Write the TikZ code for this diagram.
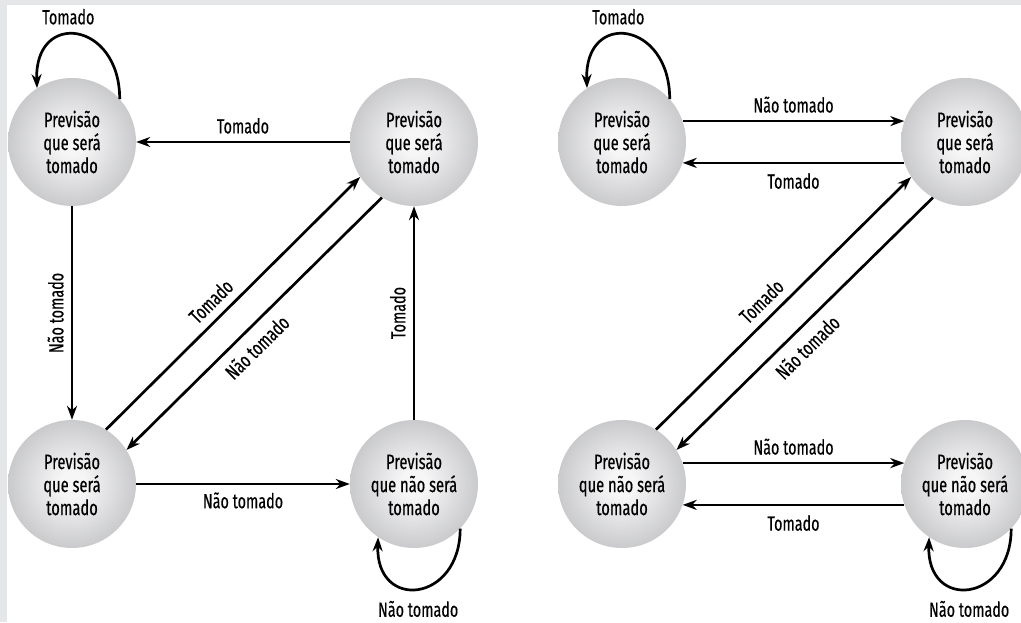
\documentclass[tikz,border=0pt]{standalone}
\usepackage{fontspec}
\setmainfont{Fira Sans}[FakeStretch=0.70,FakeBold=0.4]
\usetikzlibrary{arrows.meta,calc}
\definecolor{ballin}{RGB}{246,246,247}
\definecolor{ballout}{RGB}{146,147,151}
\definecolor{framegray}{RGB}{229,230,232}
\pgfdeclareradialshading{ball}{\pgfpoint{0bp}{0bp}}{color(0bp)=(ballin); color(5bp)=(ballin); color(50bp)=(ballout); color(60bp)=(ballout)}
\begin{document}
\begin{tikzpicture}[x=1pt,y=1pt,
  state/.style={circle, minimum size=128pt, inner sep=0pt, shade, shading=ball,
    align=center, font=\fontsize{21}{23}\selectfont},
  lbl/.style={inner sep=0pt, font=\fontsize{20.5}{22}\selectfont},
  arr/.style={line width=2.7pt, -{Stealth[length=14pt,width=10pt,inset=4.5pt]}},
  rarr/.style={line width=2.7pt, {Stealth[length=14pt,width=10pt,inset=4.5pt]}-},
]
\useasboundingbox (0,0) rectangle (1021,622);
\fill[framegray] (0,0) rectangle (1021,622);
\fill[white] (7,0) rectangle (1021,617);

% left automaton
\node[state] (A1) at (72,480) {Previsão\\que será\\tomado};
\node[state] (A2) at (414,480) {Previsão\\que será\\tomado};
\node[state] (A3) at (72,138) {Previsão\\que será\\tomado};
\node[state] (A4) at (414,138) {Previsão\\que não será\\tomado};

\draw[rarr] (A1.east) -- node[lbl, above=7pt] {Tomado} (A2.west);
\draw[rarr] (A3.north) -- node[lbl, above=7pt, sloped] {Não tomado} (A1.south);
\draw[arr] (A3.58) -- node[lbl, above=8pt, sloped, pos=0.46] {Tomado} (A2.213);
\draw[rarr] (A3.32) -- node[lbl, below=9pt, sloped, pos=0.46] {Não tomado} (A2.240);
\draw[arr] (A3.east) -- node[lbl, below=7pt] {Não tomado} (A4.west);
\draw[arr] (A4.north) -- node[lbl, above=7pt, sloped] {Tomado} (A2.south);
\draw[arr] (A1.42) to[out=90,in=92,looseness=2.4]
  node[lbl, above=9pt, xshift=-9pt] {Tomado} (A1.123);
\draw[arr] (A4.-44) to[out=-90,in=-92,looseness=2.3]
  node[lbl, below=11pt] {Não tomado} (A4.-124);

% right automaton
\node[state] (B1) at (622,480) {Previsão\\que será\\tomado};
\node[state] (B2) at (965,480) {Previsão\\que será\\tomado};
\node[state] (B3) at (622,138) {Previsão\\que não será\\tomado};
\node[state] (B4) at (965,138) {Previsão\\que não será\\tomado};

\draw[arr] (B1.19) -- node[lbl, above=7pt] {Não tomado} (B2.161);
\draw[rarr] (B1.-19) -- node[lbl, below=9pt] {Tomado} (B2.-161);
\draw[arr] (B3.58) -- node[lbl, above=8pt, sloped, pos=0.46] {Tomado} (B2.213);
\draw[rarr] (B3.32) -- node[lbl, below=9pt, sloped, pos=0.46] {Não tomado} (B2.240);
\draw[arr] (B3.19) -- node[lbl, above=7pt] {Não tomado} (B4.161);
\draw[rarr] (B3.-19) -- node[lbl, below=9pt] {Tomado} (B4.-161);
\draw[arr] (B1.42) to[out=90,in=92,looseness=2.4]
  node[lbl, above=9pt, xshift=-9pt] {Tomado} (B1.123);
\draw[arr] (B4.-44) to[out=-90,in=-92,looseness=2.3]
  node[lbl, below=11pt] {Não tomado} (B4.-124);
\end{tikzpicture}
\end{document}
